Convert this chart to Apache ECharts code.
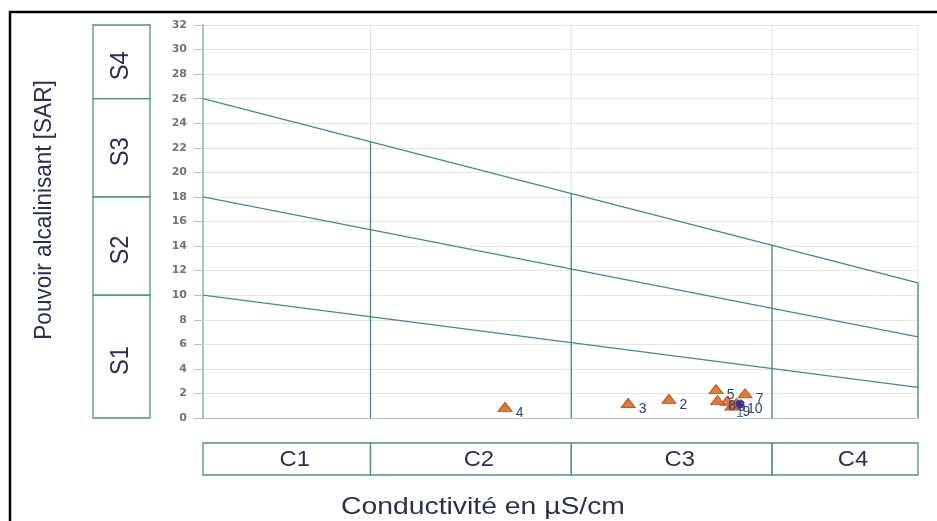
<!DOCTYPE html>
<html>
<head>
<meta charset="utf-8">
<script src="https://cdn.jsdelivr.net/npm/echarts@6/dist/echarts.min.js"></script>
<style>
  html, body { margin: 0; padding: 0; background: #ffffff; }
  #chart { width: 937px; height: 521px; }
</style>
</head>
<body>
<div id="chart"></div>
<script>
// Diagramme de Riverside : conductivité (échelle log) vs SAR
const conductiviteTicks = [100, 250, 750, 2250, 5000];
const sarMin = 0;
const sarMax = 32;
const sarStep = 2;

// Classes de salinité (C) et d'alcalinité (S)
const classesC = ['C1', 'C2', 'C3', 'C4'];
const bornesC = [100, 250, 750, 2250, 5000];
const classesS = ['S1', 'S2', 'S3', 'S4'];
const bornesS = [0, 10, 18, 26, 32];

// Droites limites des classes S (valeurs à 100 et à 5000 µS/cm)
const limiteS3S4 = [[100, 26], [5000, 11]];
const limiteS2S3 = [[100, 18], [5000, 6.6]];
const limiteS1S2 = [[100, 10], [5000, 2.5]];

// Séparations verticales des classes C (hauteur jusqu'à la limite S3/S4)
const separationsX = [250, 750, 2250, 5000];
const separationsHaut = [22.5, 18.27, 14.06, 11];

// Échantillons
const echantillonsNoms = ['2', '3', '4', '5', '6', '7', '8', '9', '10'];
const echantillonsCE = [1280, 1024, 522, 1656, 1760, 1941, 1670, 1807, 1850];
const echantillonsSAR = [1.55, 1.22, 0.9, 2.35, 1.4, 2.0, 1.45, 1.0, 1.2];
const echantillonBleuNom = ['1'];
const echantillonBleuCE = [1888];
const echantillonBleuSAR = [1.15];

const teal = '#3f8d88';
const boxColor = '#4f928c';
const textColor = '#2a2f55';
const labelFont = 'DejaVu Sans';

const chart = echarts.init(document.getElementById('chart'), null, { renderer: 'canvas' });

const gridLinesX = conductiviteTicks.map(v => ({
  type: 'line', silent: true, symbol: 'none', z: 1,
  lineStyle: { color: '#e2e2e2', width: 1 },
  data: [[v, sarMin], [v, sarMax]]
}));

const limites = [limiteS3S4, limiteS2S3, limiteS1S2].map(d => ({
  type: 'line', silent: true, symbol: 'none', z: 3,
  lineStyle: { color: teal, width: 1.3 },
  data: d
}));

const separations = separationsX.map((v, i) => ({
  type: 'line', silent: true, symbol: 'none', z: 3,
  lineStyle: { color: teal, width: 1.3 },
  data: [[v, 0], [v, separationsHaut[i]]]
}));

// Cases des classes C sous l'axe des abscisses
const boitesC = {
  type: 'custom', silent: true, z: 2,
  data: classesC.map((c, i) => [bornesC[i], bornesC[i + 1], c]),
  encode: { x: [0, 1] },
  renderItem: function (params, api) {
    const a = api.coord([api.value(0), sarMin]);
    const b = api.coord([api.value(1), sarMin]);
    const top = a[1] + 25, h = 32;
    return {
      type: 'group',
      children: [
        { type: 'rect', shape: { x: a[0], y: top, width: b[0] - a[0], height: h },
          style: { fill: 'none', stroke: boxColor, lineWidth: 1.3 } },
        { type: 'text', x: (a[0] + b[0]) / 2 + 8, y: top + h / 2 + 1, scaleX: 1.08,
          style: { text: classesC[params.dataIndex], x: 0, y: 0,
          align: 'center', verticalAlign: 'middle', fill: textColor,
          font: '22px "Liberation Sans", Arial, sans-serif' } }
      ]
    };
  }
};

// Cases des classes S à gauche de l'axe des ordonnées
const boitesS = {
  type: 'custom', silent: true, z: 2,
  data: classesS.map((s, i) => [conductiviteTicks[0], bornesS[i], bornesS[i + 1]]),
  encode: { x: 0, y: [1, 2] },
  renderItem: function (params, api) {
    const a = api.coord([api.value(0), api.value(1)]);
    const b = api.coord([api.value(0), api.value(2)]);
    const left = a[0] - 110, w = 57;
    return {
      type: 'group',
      children: [
        { type: 'rect', shape: { x: left, y: b[1], width: w, height: a[1] - b[1] },
          style: { fill: 'none', stroke: boxColor, lineWidth: 1.3 } },
        { type: 'text', x: left + w / 2, y: (a[1] + b[1]) / 2 + 4, rotation: Math.PI / 2, scaleX: 0.95,
          style: { text: classesS[params.dataIndex], x: 0, y: 0,
          align: 'center', verticalAlign: 'middle', fill: textColor,
          font: '25px "Liberation Sans", Arial, sans-serif' } }
      ]
    };
  }
};

// Étiquettes des graduations de conductivité
const etiquettesX = {
  type: 'scatter', silent: true, symbol: 'none', clip: false, z: 4,
  data: conductiviteTicks.map(v => ({ value: [v, sarMin], name: String(v) })),
  label: {
    show: true, position: 'bottom', distance: 5, formatter: '{b}',
    color: '#747474', fontFamily: labelFont, fontWeight: 'bold', fontSize: 11
  }
};

const option = {
  animation: false,
  backgroundColor: '#ffffff',
  grid: { left: 203, right: 19, top: 25, bottom: 103, containLabel: false },
  xAxis: {
    type: 'log', logBase: 10, min: 100, max: 5000,
    axisLine: { show: true, lineStyle: { color: '#a9c7c4', width: 1 } },
    axisTick: { show: false },
    axisLabel: { show: false },
    splitLine: { show: false },
    minorSplitLine: { show: false }
  },
  yAxis: {
    type: 'value', min: sarMin, max: sarMax, interval: sarStep,
    axisLine: { show: true, onZero: false, lineStyle: { color: teal, width: 1.6 } },
    axisTick: { show: true, inside: false, length: 9, lineStyle: { color: '#bdbdbd' } },
    axisLabel: { color: '#747474', fontFamily: labelFont, fontWeight: 'bold', fontSize: 11, margin: 16 },
    splitLine: { show: true, lineStyle: { color: '#e6e6e6', width: 1 } }
  },
  graphic: [
    { type: 'rect', shape: { x: 10, y: 12, width: 940, height: 520 },
      style: { fill: 'none', stroke: '#000000', lineWidth: 2.5 }, z: 100 },
    { type: 'text', x: 45, y: 210, rotation: Math.PI / 2, scaleX: 0.98,
      style: { text: 'Pouvoir alcalinisant [SAR]', x: 0, y: 0, align: 'center', verticalAlign: 'middle',
        fill: textColor, font: '23px "Liberation Sans", Arial, sans-serif' } },
    { type: 'text', x: 483, y: 507, scaleX: 1.18,
      style: { text: 'Conductivité en µS/cm', x: 0, y: 0, align: 'center', verticalAlign: 'middle',
        fill: textColor, font: '24px "Liberation Sans", Arial, sans-serif' } }
  ],
  series: [
    ...gridLinesX,
    ...limites,
    ...separations,
    boitesC,
    boitesS,
    etiquettesX,
    {
      type: 'scatter', z: 5,
      symbol: 'triangle', symbolSize: [14, 9],
      itemStyle: { color: '#e07b39', borderColor: '#b8581f', borderWidth: 1, opacity: 1 },
      data: echantillonsNoms.map((n, i) => ({ name: n, value: [echantillonsCE[i], echantillonsSAR[i]] })),
      label: { show: true, position: 'right', offset: [-2, 6], formatter: '{b}',
        color: '#33427a', fontFamily: 'Liberation Sans', fontSize: 14 }
    },
    {
      type: 'scatter', z: 6,
      symbol: 'circle', symbolSize: 9,
      itemStyle: { color: '#1d2a9c' },
      data: echantillonBleuNom.map((n, i) => ({ name: n, value: [echantillonBleuCE[i], echantillonBleuSAR[i]] })),
      label: { show: true, position: 'bottom', distance: -2, formatter: '{b}',
        color: '#33427a', fontFamily: 'Liberation Sans', fontSize: 14 }
    }
  ]
};

chart.setOption(option);
</script>
</body>
</html>
